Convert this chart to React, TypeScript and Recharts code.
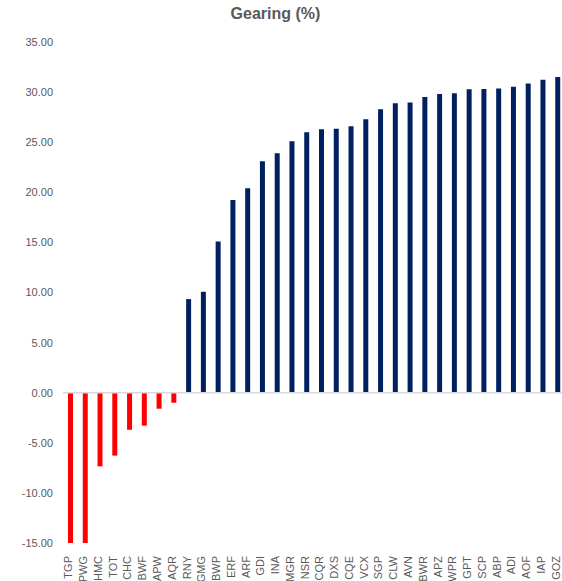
import { BarChart, Bar, XAxis, YAxis, Cell, ReferenceLine } from 'recharts';

// Fund codes, sorted by gearing
const codes = [
    'TGP', 'PWG', 'HMC', 'TOT', 'CHC', 'BWF', 'APW', 'AQR',
    'RNY', 'GMG', 'BWP', 'ERF', 'ARF', 'GDI', 'INA', 'MGR', 'NSR', 'CQR', 'DXS',
    'CQE', 'VCX', 'SGP', 'CLW', 'AVN', 'BWR', 'APZ', 'WPR', 'GPT', 'SCP', 'ABP',
    'ADI', 'AOF', 'IAP', 'GOZ',
];

// Gearing (%) - first two run off the bottom of the axis
const gearing = [
    -16.2, -15.8, -7.35, -6.28, -3.69, -3.29, -1.6, -1.0,
    9.34, 10.07, 15.08, 19.24, 20.4, 23.1, 23.9, 25.09, 26.0, 26.3, 26.35,
    26.6, 27.3, 28.28, 28.88, 28.95, 29.5, 29.8, 29.88, 30.28, 30.3, 30.37,
    30.54, 30.87, 31.24, 31.5,
];

const yTicks = [-15, -10, -5, 0, 5, 10, 15, 20, 25, 30, 35];

const NAVY = '#002060';
const RED = '#ff0000';
const GREY = '#595959';
const FONT = '"Liberation Sans", Arial, sans-serif';

const data = codes.map((code, i) => ({ code, value: gearing[i] }));

const CodeTick = ({ x, y, payload }: any) => (
    <g transform={`translate(${x},${y + 5})`}>
        <text
            transform="rotate(-90)"
            textAnchor="end"
            dy={2}
            fill={GREY}
            fontSize={11}
            fontFamily={FONT}
        >
            {payload.value}
        </text>
    </g>
);

export default function App() {
    return (
        <div
            style={{
                position: 'absolute',
                left: 0,
                top: 0,
                width: 562,
                height: 581,
                overflow: 'hidden',
                background: '#fff',
                fontFamily: FONT,
            }}
        >
            <div
                style={{
                    position: 'absolute',
                    left: 0,
                    top: 5,
                    width: 551,
                    textAlign: 'center',
                    fontSize: 16,
                    fontWeight: 'bold',
                    color: GREY,
                }}
            >
                Gearing (%)
            </div>
            <BarChart
                width={570}
                height={581}
                data={data}
                margin={{ top: 42, right: 5, bottom: 0, left: 0 }}
            >
                <XAxis
                    dataKey="code"
                    interval={0}
                    height={38}
                    axisLine={false}
                    tickLine={false}
                    tick={<CodeTick />}
                />
                <YAxis
                    width={63}
                    domain={[-15, 35]}
                    ticks={yTicks}
                    allowDataOverflow
                    axisLine={false}
                    tickLine={false}
                    tickSize={0}
                    tickMargin={10}
                    tickFormatter={(v: number) => v.toFixed(2)}
                    tick={{ fill: GREY, fontSize: 11, fontFamily: FONT }}
                />
                <ReferenceLine y={0} stroke="#d9d9d9" strokeWidth={1.5} />
                <Bar dataKey="value" barSize={5} isAnimationActive={false}>
                    {data.map((d, i) => (
                        <Cell key={`cell-${i}`} fill={d.value < 0 ? RED : NAVY} />
                    ))}
                </Bar>
            </BarChart>
        </div>
    );
}
